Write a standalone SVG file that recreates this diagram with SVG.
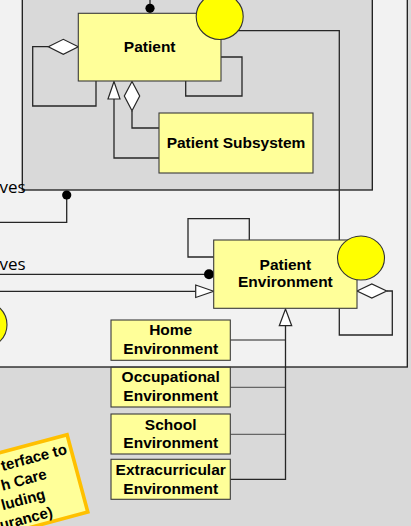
<svg xmlns="http://www.w3.org/2000/svg" width="411" height="526" viewBox="0 0 411 526">
  <style>
    .panel-outer { fill: #f2f2f2; stroke: #1a1a1a; stroke-width: 1.3; }
    .panel-inner { fill: #d9d9d9; stroke: #1a1a1a; stroke-width: 1.3; }
    .box { fill: #ffff99; stroke: #3a3a3a; stroke-width: 1.1; }
    .lbl { font-family: "Liberation Sans", Arial, sans-serif; font-weight: bold; font-size: 15.5px; fill: #000; text-anchor: middle; }
    .side { font-family: "Open Sans", "Liberation Sans", sans-serif; font-size: 17px; fill: #000; }
    .note-text { font-family: "Liberation Sans", Arial, sans-serif; font-weight: bold; font-size: 15px; fill: #000; text-anchor: end; }
    .ln { fill: none; stroke: #262626; stroke-width: 1.3; }
    .ln-grey { fill: none; stroke: #666; stroke-width: 1.3; }
    .head { fill: #fff; stroke: #262626; stroke-width: 1.2; }
    .dot { fill: #000; }
    .port { fill: #ffff00; stroke: #333; stroke-width: 1.1; }
  </style>

  <!-- background -->
  <rect x="0" y="0" width="411" height="526" fill="#d9d9d9"/>
  <rect class="panel-outer" x="-10" y="-10" width="417.3" height="377"/>
  <rect class="panel-inner" x="22.3" y="-10" width="350" height="200"/>

  <!-- connectors -->
  <g id="connectors">
    <!-- top entry to Patient -->
    <line class="ln" x1="150" y1="-2" x2="150" y2="8"/>
    <!-- Patient left self-aggregation -->
    <polyline class="ln" points="48.3,46.7 32.7,46.7 32.7,106 96,106 96,81"/>
    <polygon class="head" points="78.3,46.7 63.3,39.3 48.3,46.7 63.3,54.3"/>
    <!-- Patient right self-loop -->
    <polyline class="ln" points="221,57 242,57 242,96 185.7,96 185.7,81"/>
    <!-- Patient Subsystem generalization -->
    <polyline class="ln" points="114,99 114,158 159,158"/>
    <polygon class="head" points="114,81.5 108,99 120,99"/>
    <!-- Patient Subsystem aggregation -->
    <polyline class="ln" points="132,110.7 132,128 159,128"/>
    <polygon class="head" points="132,81.5 139.7,96 132,110.7 124.3,96"/>
    <!-- port link Patient -> Patient Environment -->
    <polyline class="ln" points="236,30.7 339.3,30.7 339.3,240"/>
    <!-- left-side links -->
    <polyline class="ln" points="-2,222.3 66.7,222.3 66.7,195"/>
    <line class="ln" x1="-2" y1="274.3" x2="209" y2="274.3"/>
    <line class="ln" x1="-2" y1="291.3" x2="195.7" y2="291.3"/>
    <polygon class="head" points="213.7,291.3 195.7,285 195.7,297.5"/>
    <!-- Patient Environment top-left self-loop -->
    <polyline class="ln" points="249.3,240 249.3,218.7 188,218.7 188,257 213.7,257"/>
    <!-- Patient Environment right self-aggregation -->
    <polyline class="ln" points="386.7,291 392.3,291 392.3,335 339.3,335 339.3,308.3"/>
    <polygon class="head" points="357,291 371.8,284 386.7,291 371.8,298"/>
    <!-- environment specializations -->
    <polyline class="ln-grey" points="230.3,340 285.5,340"/>
    <polyline class="ln-grey" points="230.3,387.3 285.5,387.3"/>
    <polyline class="ln-grey" points="230.3,434.3 285.5,434.3"/>
    <polyline class="ln" points="230.3,479.3 285.5,479.3 285.5,325.7"/>
    <polygon class="head" points="285.5,309 279.3,325.7 291.7,325.7"/>
    <!-- end dots -->
    <circle class="dot" cx="150" cy="8.3" r="4.6"/>
    <circle class="dot" cx="66.7" cy="195" r="4.6"/>
    <circle class="dot" cx="209" cy="274.3" r="5"/>
  </g>

  <!-- side labels -->
  <text class="side" x="-0.5" y="193.3">ves</text>
  <text class="side" x="-0.5" y="270">ves</text>

  <!-- nodes -->
  <g id="patient">
    <rect class="box" x="78.3" y="13.3" width="142.7" height="67.7"/>
    <text class="lbl" x="149.7" y="52">Patient</text>
    <ellipse class="port" cx="219.7" cy="16.5" rx="23.5" ry="23"/>
  </g>

  <g id="patient-subsystem">
    <rect class="box" x="159" y="113" width="154" height="60"/>
    <text class="lbl" x="236" y="148">Patient Subsystem</text>
  </g>

  <g id="patient-environment">
    <rect class="box" x="213.7" y="240" width="143.3" height="68.3"/>
    <text class="lbl" x="285.4" y="270">Patient</text>
    <text class="lbl" x="285.4" y="287.3">Environment</text>
    <ellipse class="port" cx="361" cy="258" rx="23.5" ry="22"/>
  </g>

  <g id="left-port">
    <circle class="port" cx="-16" cy="324.7" r="23"/>
  </g>

  <g id="home-environment">
    <rect class="box" x="111" y="320" width="119.3" height="40.3"/>
    <text class="lbl" x="170.7" y="335.3">Home</text>
    <text class="lbl" x="170.7" y="354">Environment</text>
  </g>

  <g id="occupational-environment">
    <rect class="box" x="111" y="367.3" width="119.3" height="39.7"/>
    <text class="lbl" x="170.7" y="382.4">Occupational</text>
    <text class="lbl" x="170.7" y="401.3">Environment</text>
  </g>

  <g id="school-environment">
    <rect class="box" x="111" y="414" width="119.3" height="40"/>
    <text class="lbl" x="170.7" y="429.6">School</text>
    <text class="lbl" x="170.7" y="448">Environment</text>
  </g>

  <g id="extracurricular-environment">
    <rect class="box" x="111" y="459.3" width="119.3" height="40"/>
    <text class="lbl" x="170.7" y="474.9">Extracurricular</text>
    <text class="lbl" x="170.7" y="493.5">Environment</text>
  </g>

  <!-- tilted note -->
  <g id="health-care-note" transform="translate(90,513.3) rotate(-15)">
    <rect x="-150" y="-81.8" width="148.2" height="80" fill="#ffff99" stroke="#ffc000" stroke-width="3.6"/>
    <text class="note-text" x="-6" y="-63.5">terface to</text>
    <text class="note-text" x="-32" y="-44.5">h Care</text>
    <text class="note-text" x="-38.5" y="-25.5">luding</text>
    <text class="note-text" x="-36" y="-6.5">urance)</text>
  </g>
</svg>
